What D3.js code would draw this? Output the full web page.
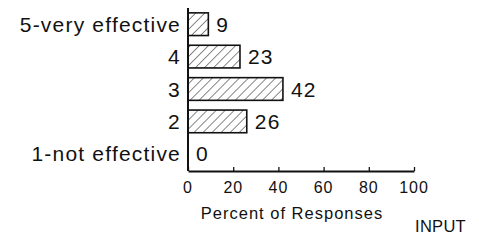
<!DOCTYPE html>
<html>
<head>
<meta charset="utf-8">
<script src="https://cdn.jsdelivr.net/npm/d3@7"></script>
<style>
  body { margin: 0; background: #fff; }
  text { font-family: "Liberation Sans", Arial, Helvetica, sans-serif; fill: #111; }
</style>
</head>
<body>
<script>
// data
var categories = ['5-very effective', '4', '3', '2', '1-not effective']
var percents = [9, 23, 42, 26, 0]
var xTicks = [0, 20, 40, 60, 80, 100]
var xTitle = 'Percent of Responses'
var footnote = 'INPUT'

var W = 479, H = 242
var svg = d3.select('body').append('svg')
  .attr('width', W)
  .attr('height', H)

var rows = categories.map(function (c, i) { return {cat: c, val: percents[i]} })

// scales
var x = d3.scaleLinear().domain([0, 100]).range([188, 414])
var y = d3.scaleBand().domain(categories).range([8, 170]).paddingInner(0.3).paddingOuter(0.15)
var axisY = 171

// hatch pattern
svg.append('defs').append('pattern')
  .attr('id', 'hatch')
  .attr('patternUnits', 'userSpaceOnUse')
  .attr('width', 6.4)
  .attr('height', 6.4)
  .attr('patternTransform', 'rotate(45)')
  .append('line')
  .attr('x1', 0).attr('y1', 0)
  .attr('x2', 0).attr('y2', 6.4)
  .attr('stroke', '#111')
  .attr('stroke-width', 1)

// bars (the 0 bar draws nothing)
svg.selectAll('rect.bar')
  .data(rows.filter(function (d) { return d.val > 0 }))
  .enter()
  .append('rect')
  .attr('class', 'bar')
  .attr('x', x(0))
  .attr('y', function (d) { return y(d.cat) })
  .attr('width', function (d) { return x(d.val) - x(0) })
  .attr('height', y.bandwidth())
  .attr('fill', 'url(#hatch)')
  .attr('stroke', '#111')
  .attr('stroke-width', 1.6)

// value labels
svg.selectAll('text.val')
  .data(rows)
  .enter()
  .append('text')
  .attr('class', 'val')
  .attr('x', function (d) { return x(d.val) + 8 })
  .attr('y', function (d) { return y(d.cat) + y.bandwidth() / 2 })
  .attr('dy', '0.36em')
  .style('font-size', '21px')
  .style('letter-spacing', '1.2px')
  .text(function (d) { return d.val })

// category labels
svg.selectAll('text.cat')
  .data(rows)
  .enter()
  .append('text')
  .attr('class', 'cat')
  .attr('x', x(0) - 7)
  .attr('y', function (d) { return y(d.cat) + y.bandwidth() / 2 })
  .attr('dy', '0.36em')
  .style('text-anchor', 'end')
  .style('font-size', '21px')
  .style('letter-spacing', '1.2px')
  .text(function (d) { return d.cat })

// y axis line
svg.append('line')
  .attr('x1', x(0)).attr('x2', x(0))
  .attr('y1', 8).attr('y2', axisY)
  .attr('stroke', '#111')
  .attr('stroke-width', 2)

// x axis
var xAxis = d3.axisTop(x)
  .tickValues(xTicks)
  .tickSize(4)
  .tickSizeOuter(0)
  .tickFormat('')
var gx = svg.append('g')
  .attr('transform', 'translate(0,' + axisY + ')')
  .call(xAxis)
gx.select('.domain').attr('stroke', '#111').attr('stroke-width', 2)
gx.selectAll('.tick line').attr('stroke', '#111').attr('stroke-width', 1.3)

svg.selectAll('text.tick')
  .data(xTicks)
  .enter()
  .append('text')
  .attr('class', 'tick')
  .attr('x', function (d) { return x(d) })
  .attr('y', axisY + 16)
  .attr('dy', '0.36em')
  .style('text-anchor', 'middle')
  .style('font-size', '16px')
  .style('letter-spacing', '0.9px')
  .text(function (d) { return d })

svg.append('text')
  .attr('x', (x(0) + x(100)) / 2 - 9)
  .attr('y', axisY + 42)
  .attr('dy', '0.36em')
  .style('text-anchor', 'middle')
  .style('font-size', '16.5px')
  .style('letter-spacing', '1px')
  .text(xTitle)

svg.append('text')
  .attr('x', 466)
  .attr('y', 226)
  .attr('dy', '0.36em')
  .style('text-anchor', 'end')
  .style('font-size', '16.5px')
  .style('letter-spacing', '0.3px')
  .text(footnote)
</script>
</body>
</html>
